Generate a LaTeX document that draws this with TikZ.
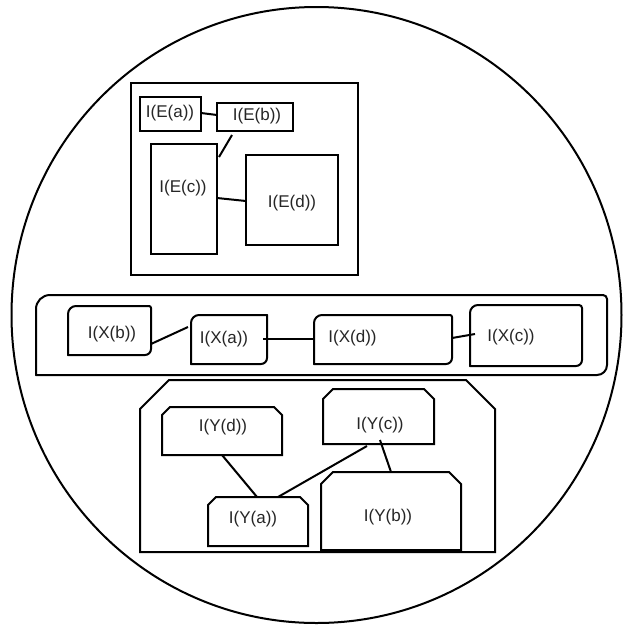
\documentclass[tikz,border=0pt]{standalone}
\usepackage{fontspec}
\setmainfont{Liberation Sans}
\usetikzlibrary{calc}
\tikzset{
  bline/.style={line width=2pt, line join=miter},
  conn/.style={line width=2pt},
  frame/.style={rectangle, inner sep=0pt, outer sep=0pt, draw=none},
  ebox/.style={rectangle, inner sep=0pt, outer sep=0pt, draw, line width=2pt},
  lbl/.style={inner sep=0pt, font=\fontsize{17}{20}\selectfont, text=black!85}
}
\newcommand{\rbox}[5]{\draw[bline] ($(#1.north west)+(0,-#2)$) arc[start angle=180,end angle=90,radius=#2] -- ($(#1.north east)+(-#3,0)$) arc[start angle=90,end angle=0,radius=#3] -- ($(#1.south east)+(0,#4)$) arc[start angle=0,end angle=-90,radius=#4] -- ($(#1.south west)+(#5,0)$) arc[start angle=-90,end angle=-180,radius=#5] -- cycle;}
\newcommand{\cbox}[2]{\draw[bline] (#1.south west) -- ($(#1.north west)+(0,-#2)$) -- ($(#1.north west)+(#2,0)$) -- ($(#1.north east)+(-#2,0)$) -- ($(#1.north east)+(0,-#2)$) -- (#1.south east) -- cycle;}
\begin{document}
\begin{tikzpicture}[x=1pt,y=1pt]
\useasboundingbox[fill=white] (0,0) rectangle (623,-625);
% outer circle
\draw[bline] (316.5,-315) ellipse[x radius=305, y radius=308];

% ---- E group ----
\node[ebox, minimum width=227, minimum height=192] (E) at (244.5,-179) {};
\node[ebox, minimum width=61, minimum height=34] (ea) at (170.5,-114) {};
\node[ebox, minimum width=76, minimum height=28] (eb) at (255,-117) {};
\node[ebox, minimum width=66, minimum height=110] (ec) at (184,-199) {};
\node[ebox, minimum width=92, minimum height=90] (ed) at (292,-200) {};
\node[lbl] (tea) at (170,-113) {I(E(a))};
\node[lbl] (teb) at (257,-116) {I(E(b))};
\node[lbl] (tec) at (183,-188) {I(E(c))};
\node[lbl] (ted) at (292,-203) {I(E(d))};
\draw[conn] ([yshift=1]ea.east) -- ([yshift=2]eb.west);
\draw[conn] ([xshift=-23,yshift=-4]eb.south) -- ([xshift=2,yshift=-13]ec.north east);
\draw[conn] ([yshift=1]ec.east) -- ([yshift=-1]ed.west);

% ---- X group ----
\node[frame, minimum width=571, minimum height=80] (X) at (321.5,-335) {};
\rbox{X}{14}{4}{10}{0.01}
\node[frame, minimum width=83, minimum height=49] (xb) at (109.5,-330.5) {};
\rbox{xb}{8}{2}{6}{0.01}
\node[frame, minimum width=76, minimum height=49] (xa) at (229,-339.5) {};
\rbox{xa}{8}{0.01}{6}{0.01}
\node[frame, minimum width=138, minimum height=49] (xd) at (383,-339.5) {};
\rbox{xd}{8}{2}{6}{0.01}
\node[frame, minimum width=112, minimum height=61] (xc) at (526,-335.5) {};
\rbox{xc}{8}{3}{6}{0.01}
\node[lbl] (txb) at (112,-334) {I(X(b))};
\node[lbl] (txa) at (224,-339) {I(X(a))};
\node[lbl] (txd) at (352.5,-338) {I(X(d))};
\node[lbl] (txc) at (511,-337) {I(X(c))};
\draw[conn] ([yshift=-13.5]xb.east) -- ([xshift=-3,yshift=12.5]xa.west);
\draw[conn] ([xshift=-4,yshift=0.5]xa.east) -- ([yshift=0.5]xd.west);
\draw[conn] ([yshift=1.5]xd.east) -- ([xshift=5,yshift=1.5]xc.west);

% ---- Y group ----
\node[frame, minimum width=355, minimum height=172] (Y) at (317.5,-466) {};
\cbox{Y}{29}
\node[frame, minimum width=120, minimum height=48] (yd) at (222,-431) {};
\cbox{yd}{8}
\node[frame, minimum width=111, minimum height=55] (yc) at (378.5,-416.5) {};
\cbox{yc}{10}
\node[frame, minimum width=100, minimum height=49] (ya) at (258,-521.5) {};
\cbox{ya}{8}
\node[frame, minimum width=140, minimum height=78] (yb) at (391,-511) {};
\cbox{yb}{12}
\node[lbl] (tyd) at (223,-427) {I(Y(d))};
\node[lbl] (tyc) at (380,-425) {I(Y(c))};
\node[lbl] (tya) at (253,-519) {I(Y(a))};
\node[lbl] (tyb) at (388,-517) {I(Y(b))};
\draw[conn] (yd.south) -- ([xshift=-1]ya.north);
\draw[conn] ([xshift=-11.5,yshift=-2]yc.south) -- ([xshift=20]ya.north);
\draw[conn] ([xshift=1.5,yshift=4]yc.south) -- (yb.north);
\end{tikzpicture}
\end{document}
